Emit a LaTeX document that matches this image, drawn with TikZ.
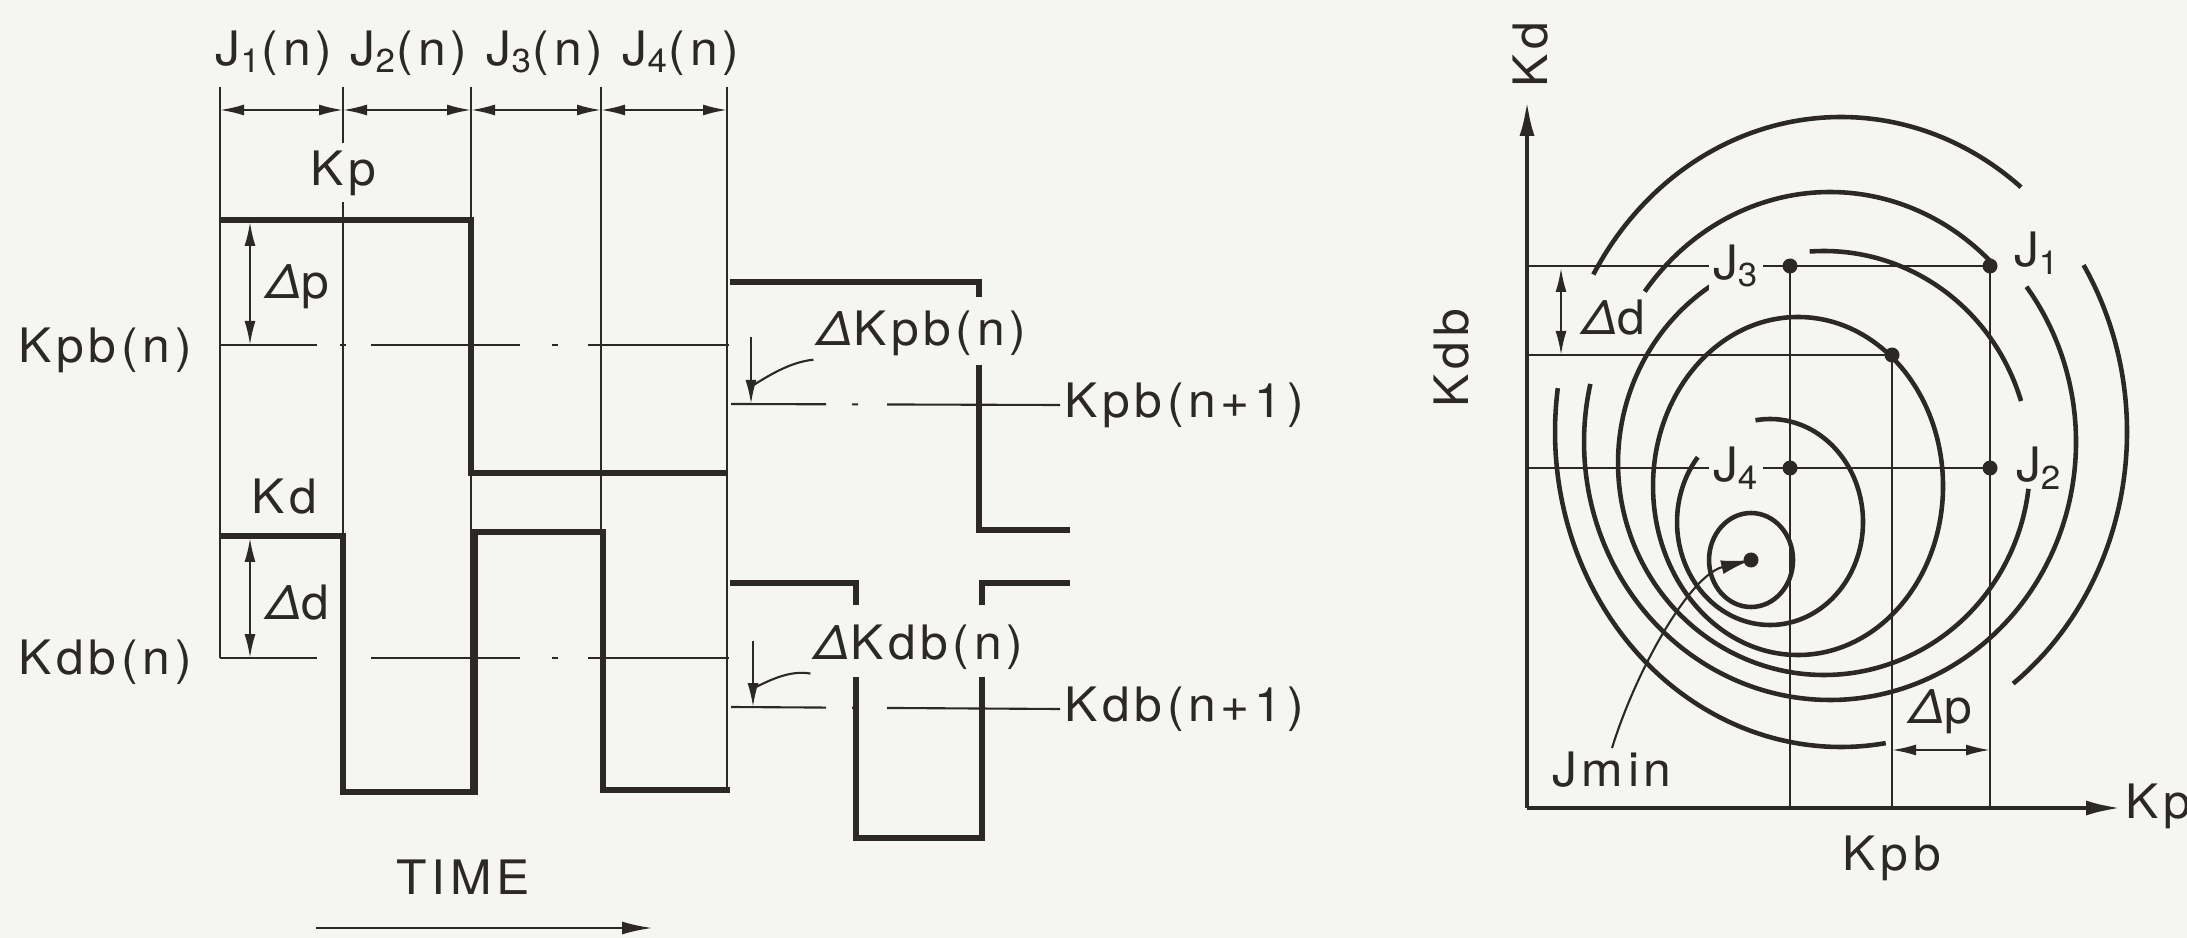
\documentclass[tikz,border=0pt]{standalone}
\usepackage{fontspec}
\setmainfont{TeX Gyre Heros}[LetterSpace=10,FakeStretch=1.05]
\usetikzlibrary{arrows.meta}
\definecolor{ink}{RGB}{45,40,40}
\definecolor{paper}{RGB}{245,245,243}
\newcommand{\dlt}{{\itshape Δ}}
\newcommand{\isoline}[6]{\draw[contour] plot[domain=#5:#6,samples=90,smooth] ({#1+#3*cos(\x)},{#2-#4*sin(\x)});}

\begin{document}
\begin{tikzpicture}[x=0.1mm,y=-0.1mm,
  every node/.style={font=\fontsize{13.5}{15}\selectfont,text=ink,inner sep=1pt},
  wave/.style={draw=ink,line width=1.8pt},
  guide/.style={draw=ink,line width=0.6pt},
  base n/.style={guide,dash pattern=on 9.7mm off 2.3mm on 0.6mm off 2.5mm on 14.9mm off 3.2mm on 0.6mm off 3mm on 20mm},
  base n1/.style={guide,dash pattern=on 9.5mm off 2.6mm on 0.6mm off 2.9mm on 30mm},
  dim/.style={guide,{Latex[length=2.4mm,width=1.1mm]}-{Latex[length=2.4mm,width=1.1mm]}},
  leader/.style={guide,-{Latex[length=2.4mm,width=1.1mm]}},
  contour/.style={draw=ink,line width=1.3pt},
  axis/.style={draw=ink,line width=1.3pt,-{Latex[length=3.6mm,width=1.5mm]}}]

  \fill[paper] (0,0) rectangle (2187,938);
  \useasboundingbox (0,0) rectangle (2187,938);

  % time chart: guides and intervals
  \foreach \x/\yb in {220/658,343/536,471/792,601/790,727/790}
    \draw[guide] (\x,87) -- (\x,\yb);
  \foreach \a/\b/\i/\lx in {220/343/1/274,343/471/2/409,471/601/3/545,601/727/4/681} {
    \draw[dim] (\a,110) -- (\b,110);
    \node at (\lx,53) {J\textsubscript{\i}(n)};
  }
  \node[fill=paper,inner sep=2pt] at (343,173) {Kp};
  \node at (284,497) {Kd};

  % Kp and Kd steps
  \draw[wave] (220,220) -- (471,220) -- (471,473) -- (727,473);
  \draw[wave] (730,282) -- (979,282) -- (979,297);
  \draw[wave] (979,365) -- (979,530) -- (1070,530);
  \draw[wave] (220,536) -- (343,536) -- (343,792) -- (475,792) -- (475,532) -- (603,532) -- (603,790) -- (730,790);
  \draw[wave] (730,583) -- (856,583) -- (856,605);
  \draw[wave] (856,677) -- (856,838) -- (982,838) -- (982,677);
  \draw[wave] (982,605) -- (982,583) -- (1070,583);

  % base levels
  \node[anchor=east] (kpbn) at (196,350) {Kpb(n)};
  \node[anchor=east] (kdbn) at (196,662) {Kdb(n)};
  \node[anchor=west] (kpbn1) at (1060,405) {Kpb(n+1)};
  \node[anchor=west] (kdbn1) at (1060,709) {Kdb(n+1)};
  \draw[base n] (220,345) -- (729,345);
  \draw[base n] (220,658) -- (729,658);
  \draw[base n1] (731,404) -- (kpbn1.west);
  \draw[base n1] (731,707) -- (kdbn1.west);

  \draw[dim] (250,222) -- (250,345);
  \node at (298,287) {\dlt p};
  \draw[dim] (250,538) -- (250,658);
  \node at (298,603) {\dlt d};

  % corrections
  \node (dkpb) at (922,333) {\dlt Kpb(n)};
  \node (dkdb) at (919,647) {\dlt Kdb(n)};
  \coordinate (kpbtip) at (751,404);
  \coordinate (kdbtip) at (753,707);
  \draw[leader] (751,337) -- (kpbtip);
  \draw[leader] (753,641) -- (kdbtip);
  \draw[guide] (dkpb.south west) .. controls (790,362) and (768,376) .. (752,386);
  \draw[guide] (dkdb.south west) .. controls (790,670) and (770,680) .. (754,688);

  \node (time) at (463,877) {TIME};
  \coordinate (t0) at (316,928);
  \coordinate (t1) at (652,928);
  \draw[guide,-{Latex[length=3mm,width=1.3mm]}] (t0) -- (t1);

  % parameter plane
  \coordinate (O) at (1527,808);
  \coordinate (J1) at (1990,266);
  \coordinate (J2) at (1990,468);
  \coordinate (J3) at (1790,266);
  \coordinate (J4) at (1790,468);
  \coordinate (P) at (1892,355);
  \coordinate (Jm) at (1751,560);

  \draw[guide] (O |- J3) -- (J1);
  \draw[guide] (O |- P) -- (P);
  \draw[guide] (O |- J4) -- (J2);
  \draw[guide] (J3) -- (J3 |- O);
  \draw[guide] (P) -- (P |- O);
  \draw[guide] (J1) -- (J1 |- O);

  % cost contours
  \draw[contour] (Jm) ellipse [x radius=4.2mm, y radius=4.7mm];
  \isoline{1770}{522}{93}{103}{141}{459}
  \draw[contour] (1798,486) ellipse [x radius=14.5mm, y radius=16.9mm];
  \isoline{1824}{463}{206}{212}{17}{94}
  \isoline{1824}{463}{206}{212}{120}{353}
  \isoline{1830}{442}{232}{250}{46}{143}
  \isoline{1830}{442}{246}{258}{-193}{37}
  \isoline{1841}{432}{286}{315}{51}{150}
  \isoline{1841}{432}{286}{315}{-53}{32}
  \isoline{1841}{432}{286}{315}{172}{279}

  \draw[axis] (O) -- (1527,100);
  \draw[axis] (O) -- (2122,808);
  \node[rotate=90] at (1531,55) {Kd};
  \node at (2158,806) {Kp};
  \node[rotate=90] at (1452,358) {Kdb};
  \node at (1892,858) {Kpb};

  \foreach \p in {J1,J2,J3,J4,P}
    \fill[ink] (\p) circle [radius=0.75mm];
  \node[fill=paper] at (1736,266) {J\textsubscript{3}};
  \node[fill=paper] at (1736,468) {J\textsubscript{4}};
  \node at (2037,253) {J\textsubscript{1}};
  \node at (2039,468) {J\textsubscript{2}};

  \draw[dim] (1561,268) -- (1561,355);
  \node at (1614,318) {\dlt d};
  \draw[dim] (1892,750) -- (1990,750);
  \node at (1941,712) {\dlt p};

  \node (jmin) at (1612,770) {Jmin};
  \fill[ink] (Jm) circle [radius=0.75mm];
  \draw[guide,-{Latex[length=3mm,width=1.4mm]}] (jmin.north) .. controls (1636,670) and (1690,575) .. (Jm);
\end{tikzpicture}
\end{document}
